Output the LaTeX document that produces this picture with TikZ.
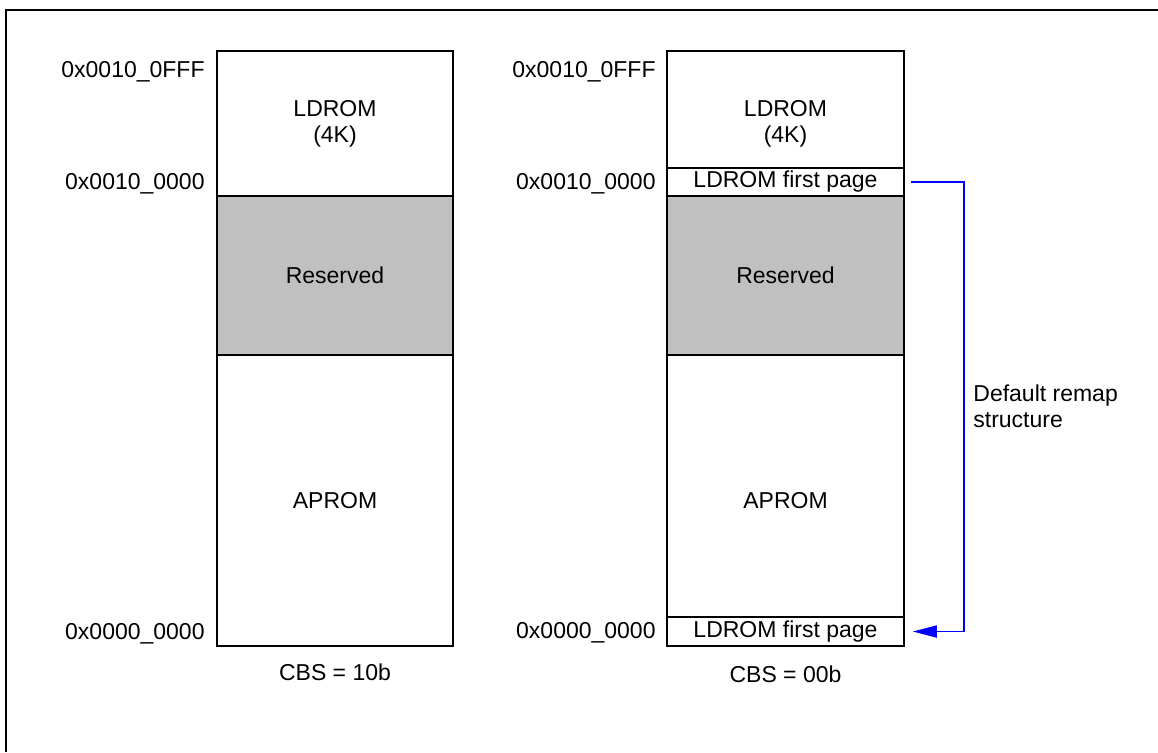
\documentclass[tikz,border=0pt]{standalone}
\usepackage{fontspec}
\setmainfont{Liberation Sans}
\usetikzlibrary{arrows.meta}
\usepackage{xcolor}

\definecolor{rsvgray}{RGB}{192,192,192}
\definecolor{remapblue}{RGB}{0,0,255}

\tikzset{
    memblock/.style={draw, rectangle, line width=0.75pt, align=center, inner sep=0pt},
    addrlabel/.style={anchor=base east, inner sep=0pt},
    cbslabel/.style={anchor=base, inner sep=0pt},
    remaparrow/.style={draw=remapblue, line width=0.85pt, -{Triangle[length=12pt, width=6pt]}}
}

\begin{document}
\begin{tikzpicture}[x=0.5pt, y=-0.5pt, font=\fontsize{11.5pt}{13pt}\selectfont]
        \useasboundingbox (0,0) rectangle (1158,752);
        % outer frame
        \draw[line width=0.9pt] (1158,10) -| (6,752);

        % CBS = 10b
        \node[memblock, minimum width=118pt, minimum height=72.5pt] (ldromA) at (335,123.5) {LDROM\\(4K)};
        \node[memblock, fill=rsvgray, minimum width=118pt, minimum height=79.5pt] (reservedA) at (335,275.5) {Reserved};
        \node[memblock, minimum width=118pt, minimum height=145.5pt] (apromA) at (335,500.5) {APROM};
        \node[addrlabel] (topA) at (205,77) {0x0010\_0FFF};
        \node[addrlabel] (ldbaseA) at (205,189) {0x0010\_0000};
        \node[addrlabel] (zeroA) at (205,639) {0x0000\_0000};
        \node[cbslabel] (cbsA) at (335,680) {CBS = 10b};

        % CBS = 00b
        \node[memblock, minimum width=118.5pt, minimum height=72.5pt] (ldromB) at (785.5,123.5) {LDROM\\(4K)};
        \node[memblock, fill=rsvgray, minimum width=118.5pt, minimum height=79.5pt] (reservedB) at (785.5,275.5) {Reserved};
        \node[memblock, minimum width=118.5pt, minimum height=145.5pt] (apromB) at (785.5,500.5) {APROM};
        \node[memblock, fill=white, minimum width=118.5pt, minimum height=14pt] (pageHiB) at (785.5,182) {LDROM first page};
        \node[memblock, fill=white, minimum width=118.5pt, minimum height=14.5pt] (pageLoB) at (785.5,631.5) {LDROM first page};
        \node[addrlabel] (topB) at (656,77) {0x0010\_0FFF};
        \node[addrlabel] (ldbaseB) at (656,189) {0x0010\_0000};
        \node[addrlabel] (zeroB) at (656,638) {0x0000\_0000};
        \node[cbslabel] (cbsB) at (785.5,682) {CBS = 00b};

        % remap
        \draw[remaparrow] ([xshift=3pt]pageHiB.east) -- ++(53,0) |- ([xshift=4pt]pageLoB.east);
        \node[anchor=west, align=left, inner sep=0pt] (remapnote) at (973,406) {Default remap\\structure};
    \end{tikzpicture}
\end{document}
